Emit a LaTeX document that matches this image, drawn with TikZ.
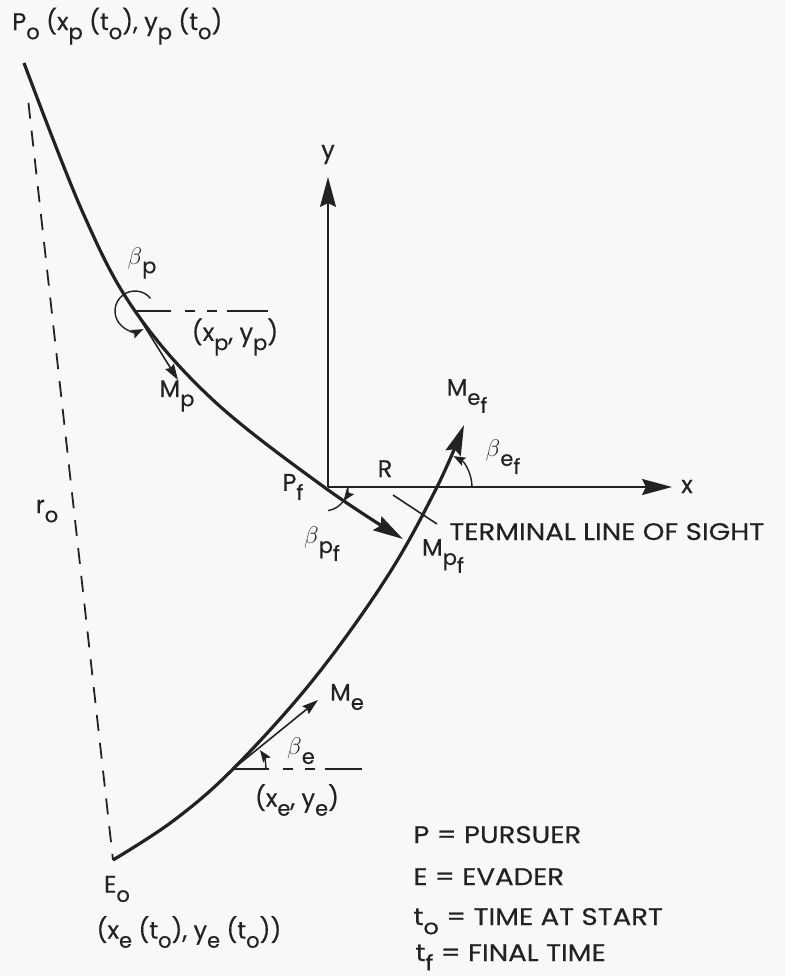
\documentclass[tikz,border=0pt]{standalone}
\usepackage{fontspec}
\setmainfont[FakeBold=0.4]{Poppins}
\newfontfamily\wide[FakeStretch=1.15,FakeBold=0.4]{Poppins}
\usetikzlibrary{arrows.meta}
\definecolor{ink}{HTML}{222222}
\definecolor{paper}{HTML}{F8F8F6}
\newcommand{\sbs}[1]{\raisebox{-0.7ex}{\fontsize{10.5}{11}\selectfont #1}}
\newcommand{\bet}{{\fontsize{11.5}{11}\selectfont$\beta$}}

\begin{document}
\begin{tikzpicture}[x=0.5pt,y=-0.5pt,>={Stealth[length=15pt,width=8pt,inset=2pt]},font=\fontsize{12}{14}\selectfont,color=ink]
\tikzset{track/.style={line width=1.6pt,line join=round},
  axis/.style={line width=1pt,->},
  guide/.style={line width=0.9pt,dash pattern=on 8pt off 6pt},
  hline/.style={line width=0.9pt,dash pattern=on 18pt off 7pt on 5pt off 6pt on 5pt off 5pt on 40pt},
  vec/.style={line width=0.8pt,-{Stealth[length=8pt,width=5pt,inset=1pt]}},
  ang/.style={line width=0.7pt,-{Stealth[length=6pt,width=4.5pt,inset=1pt]}},
  lbl/.style={inner sep=1pt},
  key/.style={inner sep=1pt,anchor=base west,font=\wide\fontsize{12}{14}\selectfont}}
\fill[paper] (0,0) rectangle (785,976);
\useasboundingbox (0,0) rectangle (785,976);
% points
\coordinate (P0) at (24,63);
\coordinate (Pp) at (135,311);
\coordinate (Pf) at (324,487);
\coordinate (Mpf) at (403,539);
\coordinate (E0) at (113,860);
\coordinate (Pe) at (233,769);
\coordinate (Ef) at (437,487);
\coordinate (Mef) at (464,425);
\coordinate (O) at (328,487);
\coordinate (ytip) at (328,177);
\coordinate (xtip) at (672,487);
\coordinate (Mp) at (178,380);
\coordinate (Me) at (318,700);
\coordinate (hp) at (268,311);
\coordinate (he) at (362,769);
\coordinate (los1) at (393,495);
\coordinate (los2) at (437,524);
% paths
\draw[guide,shorten <=20pt] (P0) -- (E0);
\draw[track,->] plot[smooth,tension=0.6] coordinates {(P0) (83,213) (Pp) (213,400) (Pf) (Mpf)};
\draw[track,->] plot[smooth,tension=0.6] coordinates {(E0) (173,821) (Pe) (313,680) (387,577) (Ef) (Mef)};
\draw[axis] (O) -- (ytip);
\draw[axis] (O) -- (xtip);
\draw[hline] (Pp) -- (hp);
\draw[hline] (Pe) -- (he);
\draw[vec] (Pp) -- (Mp);
\draw[vec] (Pe) -- (Me);
\draw[line width=0.8pt] (los1) -- (los2);
% angles
\draw[ang] ([shift={(-39:20)}]Pp) arc (-39:-295:20);
\draw[ang] ([shift={(0:33)}]Pe) arc (0:-35:33);
\draw[ang] ([shift={(0:35)}]Ef) arc (0:-62:35);
\draw[ang] ([shift={(0:24)}]Pf) arc (0:36:24);
\draw[line width=0.7pt] ([shift={(36:24)}]Pf) arc (36:80:24);
% labels
\node[lbl,anchor=base west] (lP0) at (10,30) {P\sbs{o} (x\sbs{p} (t\sbs{o}), y\sbs{p} (t\sbs{o})};
\node[lbl,anchor=base] (ly) at (328,158) {y};
\node[lbl,anchor=base] (lx) at (687,493) {x};
\node[lbl] (lbp) at (142,263) {\bet\sbs{p}};
\node[lbl] (lxp) at (235,337) {(x\sbs{p}, y\sbs{p})};
\node[lbl] (lMp) at (177,396) {M\sbs{p}};
\node[lbl] (lPf) at (293,487) {P\sbs{f}};
\node[lbl,anchor=base] (lR) at (385,477) {R};
\node[lbl] (lbpf) at (322,544) {\bet\sbs{p\sbs{f}}};
\node[lbl] (lMpf) at (443,556) {M\sbs{p\sbs{f}}};
\node[key] (llos) at (447,540) {TERMINAL LINE OF SIGHT};
\node[lbl] (lMef) at (467,396) {M\sbs{e\sbs{f}}};
\node[lbl] (lbef) at (503,457) {\bet\sbs{e\sbs{f}}};
\node[lbl] (lro) at (47,511) {r\sbs{o}};
\node[lbl] (lMe) at (347,697) {M\sbs{e}};
\node[lbl] (lbe) at (301,751) {\bet\sbs{e}};
\node[lbl] (lxe) at (297,800) {(x\sbs{e}, y\sbs{e})};
\node[lbl] (lE0) at (117,889) {E\sbs{o}};
\node[lbl] (lxe0) at (189,932) {(x\sbs{e} (t\sbs{o}), y\sbs{e} (t\sbs{o}))};
% legend
\node[key] (kP) at (411,843) {P = PURSUER};
\node[key] (kE) at (411,885) {E = EVADER};
\node[key] (kt0) at (411,925) {t\sbs{o} = TIME AT START};
\node[key] (ktf) at (413,961) {t\sbs{f} = FINAL TIME};
\end{tikzpicture}
\end{document}
